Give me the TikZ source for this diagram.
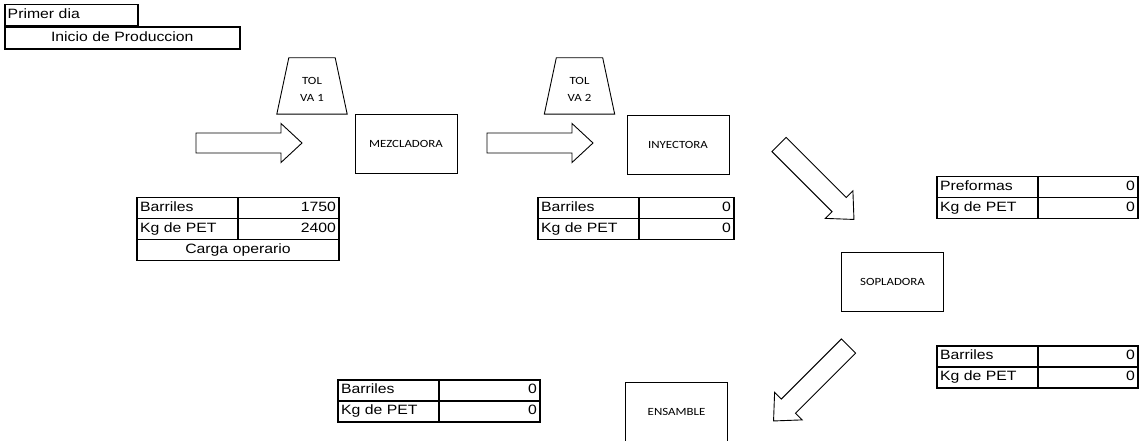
\documentclass[tikz,border=0pt]{standalone}
\usepackage{fontspec}
\setmainfont{Liberation Sans}[FakeStretch=1.17]
\newfontfamily\calibri{Carlito}[FakeStretch=1.17]
\usetikzlibrary{positioning}

\begin{document}
\begin{tikzpicture}[
    x=1pt, y=-1pt,
    font=\fontsize{13.5}{15}\selectfont,
    titulo/.style={draw, line width=1.5pt, anchor=north west, inner xsep=3pt, inner ysep=0pt, text height=9.5pt, text depth=3pt},
    maquina/.style={draw, line width=0.9pt, minimum width=102pt, minimum height=59pt, font=\calibri\fontsize{11}{13}\selectfont},
    tolva/.style={minimum width=70pt, minimum height=56pt, inner sep=0pt, align=center, text height=32pt, font=\calibri\fontsize{11}{17.5}\selectfont},
    celda/.style={draw, line width=1.5pt, outer sep=0pt, inner xsep=3pt, inner ysep=0pt, minimum height=21pt, text height=9.5pt, text depth=3pt},
    etq/.style={celda, text width=95pt, align=left},
    val/.style={celda, align=right},
    flecha/.pic={\draw[line width=0.9pt] (0,-10) -- (85,-10) -- (85,-19.5) -- (106,0) -- (85,19.5) -- (85,10) -- (0,10) -- cycle;}
  ]
  \useasboundingbox (0,0) rectangle (1140,441);
  \node[titulo, text width=127pt, align=left, minimum height=21pt] (primer) at (4,4) {Primer dia};
  \node[titulo, text width=229pt, align=center, minimum height=22pt] (inicio) at (primer.south west) {Inicio de Produccion};

  \node[tolva] (tolva1) at (312,86) {TOL\\VA 1};
  \node[tolva] (tolva2) at (579.5,86) {TOL\\VA 2};
  \foreach \t in {tolva1, tolva2}
    \draw[line width=0.9pt] ([xshift=12pt]\t.north west) -- ([xshift=-12pt]\t.north east)
      -- (\t.south east) -- (\t.south west) -- cycle;
  \node[maquina] (mezcladora) at (406,144) {MEZCLADORA};
  \node[maquina] (inyectora) at (678,145) {INYECTORA};
  \node[maquina] (sopladora) at (892.5,282) {SOPLADORA};
  \node[maquina] (ensamble) at (676.5,412) {ENSAMBLE};

  \foreach \x/\y/\ang in {196/143/0, 487/143/0, 779/144.5/-45, 848.5/346/-135}
    \pic[rotate=\ang] at (\x,\y) {flecha};

  \foreach \nom/\x/\y/\ea/\va/\eb/\vb/\w in {ta/137/197.5/Barriles/1750/Kg de PET/2400/95,
                                             tb/538/197.5/Barriles/0/Kg de PET/0/89,
                                             tc/937/176.5/Preformas/0/Kg de PET/0/94,
                                             td/937/346/Barriles/0/Kg de PET/0/94,
                                             te/338/380/Barriles/0/Kg de PET/0/95} {
    \node[etq, anchor=north west] (\nom1) at (\x,\y) {\ea};
    \node[val, text width=\w pt, right=0pt of \nom1] (\nom1v) {\va};
    \node[etq, below=0pt of \nom1] (\nom2) {\eb};
    \node[val, text width=\w pt, right=0pt of \nom2] (\nom2v) {\vb};
  }
  \node[celda, anchor=north west, text width=196pt, align=center] (carga) at (ta2.south west) {Carga operario};
\end{tikzpicture}
\end{document}
